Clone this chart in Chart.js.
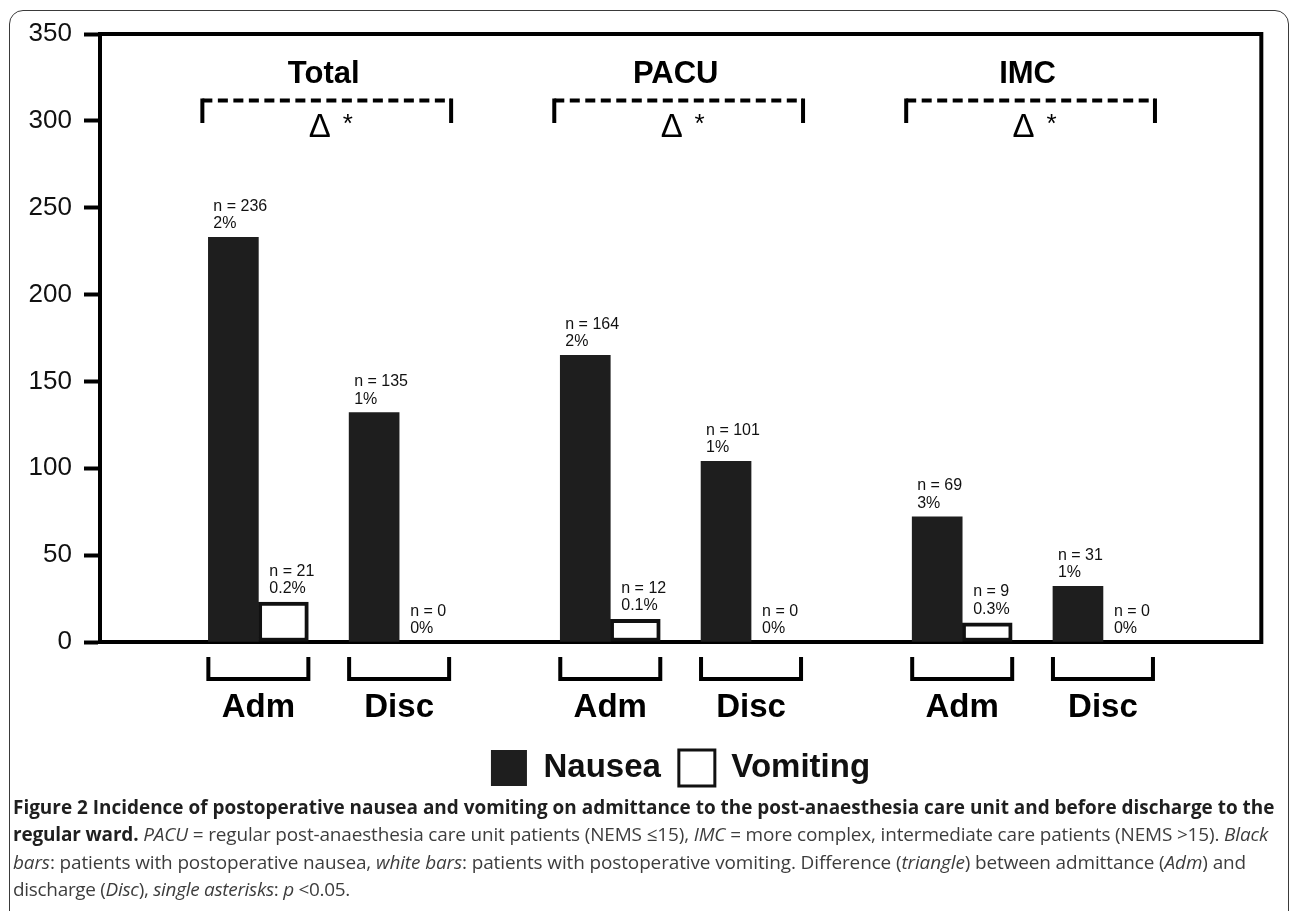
<!DOCTYPE html>
<html><head><meta charset="utf-8">
<script src="https://cdn.jsdelivr.net/npm/chart.js@4.4.0/dist/chart.umd.min.js"></script>
<style>
html,body{margin:0;padding:0;background:#fff;width:1290px;height:911px;overflow:hidden;}
#frame{position:absolute;left:9px;top:10px;width:1280px;height:960px;border:1.5px solid #3a3a3a;border-radius:14px;box-sizing:border-box;}
#wrap{position:absolute;left:0;top:0;width:1290px;height:796px;}
#caption{position:absolute;left:13px;top:794px;font-family:'Open Sans';font-size:18px;line-height:27.3px;color:#3d3d3d;white-space:nowrap;}
#caption b{color:#1f1f1f;font-weight:700;}
#caption div{display:block;}
#caption span.l{display:inline-block;}
</style></head>
<body>
<div id="frame"></div>
<div id="wrap"><canvas id="c" width="1290" height="796"></canvas></div>
<div id="caption">
<div><span class="l" data-w="1263"><b>Figure 2 Incidence of postoperative nausea and vomiting on admittance to the post-anaesthesia care unit and before discharge to the</b></span></div>
<div><span class="l" data-w="1255"><b>regular ward.</b> <i>PACU</i> = regular post-anaesthesia care unit patients (NEMS ≤15), <i>IMC</i> = more complex, intermediate care patients (NEMS &gt;15). <i>Black</i></span></div>
<div><span class="l" data-w="1233"><i>bars</i>: patients with postoperative nausea, <i>white bars</i>: patients with postoperative vomiting. Difference (<i>triangle</i>) between admittance (<i>Adm</i>) and</span></div>
<div><span class="l" data-w="337">discharge (<i>Disc</i>), <i>single asterisks</i>: <i>p</i> &lt;0.05.</span></div>
</div>
<script>
// ---- data ----
const groups = ['Total', 'PACU', 'IMC'];
const phases = ['Adm', 'Disc'];
const seriesNames = ['Nausea', 'Vomiting'];
// order: Total Adm, Total Disc, PACU Adm, PACU Disc, IMC Adm, IMC Disc
const nauseaValues = [233, 132, 165, 104, 72, 32];
const vomitingValues = [23, 0, 13, 0, 11, 0];
const nauseaN = [236, 135, 164, 101, 69, 31];
const nauseaPct = ['2%', '1%', '2%', '1%', '3%', '1%'];
const vomitingN = [21, 0, 12, 0, 9, 0];
const vomitingPct = ['0.2%', '0%', '0.1%', '0%', '0.3%', '0%'];
const yTicks = [0, 50, 100, 150, 200, 250, 300, 350];
const groupNoteMark = ['Δ', 'Δ', 'Δ'];
const groupNoteSig = ['*', '*', '*'];

// ---- category slots (spacer categories give the uneven spacing) ----
const SLOT_COUNT = 33;
const slotOf = (g, p) => 4 + 10 * g + 4 * p;
const categories = new Array(SLOT_COUNT).fill('');
const slots = [];
groups.forEach((g, gi) => phases.forEach((p, pi) => { const s = slotOf(gi, pi); categories[s] = p; slots.push(s); }));
function spread(vals) { const arr = new Array(SLOT_COUNT).fill(null); vals.forEach((v, i) => arr[slots[i]] = v); return arr; }

const FONT = "'Liberation Sans', Arial, sans-serif";
Chart.defaults.font.family = FONT;
Chart.defaults.color = '#111';

const legendShift = {
  id: 'legendShift',
  afterLayout(chart) { if (chart.legend) chart.legend.left = chart.legend.left + 89; }
};

const annot = {
  id: 'annot',
  afterDatasetsDraw(chart) {
    const { ctx, chartArea: a } = chart;
    const m0 = chart.getDatasetMeta(0), m1 = chart.getDatasetMeta(1);
    ctx.save();
    // frame (top + right)
    ctx.strokeStyle = '#000'; ctx.lineWidth = 4; ctx.lineCap = 'square'; ctx.lineJoin = 'miter';
    ctx.beginPath(); ctx.moveTo(a.left, a.top); ctx.lineTo(a.right, a.top); ctx.lineTo(a.right, a.bottom); ctx.stroke();
    ctx.lineCap = 'butt';
    // value labels
    ctx.font = '16px ' + FONT; ctx.fillStyle = '#111'; ctx.textAlign = 'left'; ctx.textBaseline = 'alphabetic';
    const lab = [[nauseaN, nauseaPct, 5], [vomitingN, vomitingPct, 11]];
    [m0, m1].forEach((m, di) => {
      slots.forEach((s, k) => {
        const el = m.data[s];
        const left = el.x - el.width / 2 + lab[di][2];
        const top = Math.min(el.y, el.base);
        const b2 = top - 9;
        ctx.fillText('n = ' + lab[di][0][k], left, b2 - 17.5);
        ctx.fillText(lab[di][1][k], left, b2);
      });
    });
    // bottom brackets
    ctx.lineWidth = 4;
    slots.forEach(s => {
      const e0 = m0.data[s], e1 = m1.data[s];
      const L = e0.x - e0.width / 2, R = e1.x + e1.width / 2;
      ctx.beginPath();
      ctx.moveTo(L, a.bottom + 15); ctx.lineTo(L, a.bottom + 37); ctx.lineTo(R, a.bottom + 37); ctx.lineTo(R, a.bottom + 15);
      ctx.stroke();
    });
    // group headers
    groups.forEach((g, gi) => {
      const eA = m0.data[slotOf(gi, 0)], eD = m1.data[slotOf(gi, 1)];
      const L = eA.x - eA.width / 2 - 6, R = eD.x + eD.width / 2 + 2;
      const mid = (m0.data[slotOf(gi, 0)].x + m0.data[slotOf(gi, 1)].x) / 2 + 25;
      ctx.fillStyle = '#000';
      ctx.font = 'bold 31px ' + FONT; ctx.textAlign = 'center';
      ctx.fillText(g, mid - 5, a.top + 49);
      // dashed bracket
      ctx.lineWidth = 4; ctx.strokeStyle = '#000';
      ctx.setLineDash([10, 5.5]);
      ctx.beginPath(); ctx.moveTo(L, a.top + 66.5); ctx.lineTo(R, a.top + 66.5); ctx.stroke();
      ctx.setLineDash([]);
      ctx.beginPath(); ctx.moveTo(L, a.top + 64.5); ctx.lineTo(L, a.top + 89); ctx.stroke();
      ctx.beginPath(); ctx.moveTo(R, a.top + 64.5); ctx.lineTo(R, a.top + 89); ctx.stroke();
      ctx.font = '33px ' + FONT;
      ctx.fillText(groupNoteMark[gi], mid - 9, a.top + 103);
      ctx.font = '26px ' + FONT;
      ctx.fillText(groupNoteSig[gi], mid + 19, a.top + 98);
    });
    ctx.restore();
  }
};

new Chart(document.getElementById('c'), {
  type: 'bar',
  data: {
    labels: categories,
    datasets: [
      { label: seriesNames[0], data: spread(nauseaValues), backgroundColor: '#1e1e1e', borderWidth: 0, barThickness: 50 },
      { label: seriesNames[1], data: spread(vomitingValues), backgroundColor: '#ffffff', borderColor: '#111', borderWidth: 4, borderSkipped: false, barThickness: 50 }
    ]
  },
  options: {
    responsive: false,
    animation: false,
    devicePixelRatio: 1,
    layout: { padding: { left: 0, right: 18, top: 34, bottom: 0 } },
    plugins: {
      tooltip: { enabled: false },
      legend: {
        position: 'bottom',
        labels: {
          boxWidth: 36, boxHeight: 36, padding: 18,
          font: { size: 33, weight: 'bold', family: FONT }, color: '#111',
          generateLabels: (chart) => Chart.defaults.plugins.legend.labels.generateLabels(chart).map(l => Object.assign(l, { lineWidth: l.datasetIndex === 1 ? 3 : 0, strokeStyle: '#111' }))
        }
      }
    },
    scales: {
      x: {
        offset: true,
        grid: { display: false, drawTicks: false },
        border: { display: true, width: 4, color: '#000' },
        ticks: { autoSkip: false, maxRotation: 0, padding: 46, font: { size: 33, weight: 'bold' }, color: '#000' },
        afterFit: s => { s.height = 90; }
      },
      y: {
        min: 0, max: 350,
        afterBuildTicks: s => { s.ticks = yTicks.map(v => ({ value: v })); },
        grid: { display: true, drawOnChartArea: false, drawTicks: true, tickLength: 16, tickWidth: 4, tickColor: '#000' },
        border: { display: true, width: 4, color: '#000' },
        ticks: { padding: 12, font: { size: 26 }, color: '#111' },
        afterFit: s => { s.width = 100; }
      }
    }
  },
  plugins: [legendShift, annot]
});

// fit caption line widths to the reference
(function () {
  const cap = document.getElementById('caption');
  const lines = Array.from(cap.querySelectorAll('span.l'));
  const w1 = lines[0].getBoundingClientRect().width;
  const fs = 18 * (+lines[0].dataset.w) / w1;
  cap.style.fontSize = fs.toFixed(2) + 'px';
  lines.slice(1).forEach(sp => {
    const w = sp.getBoundingClientRect().width;
    const n = sp.textContent.length;
    sp.style.letterSpacing = ((+sp.dataset.w - w) / n).toFixed(3) + 'px';
  });
})();
</script>
</body></html>
